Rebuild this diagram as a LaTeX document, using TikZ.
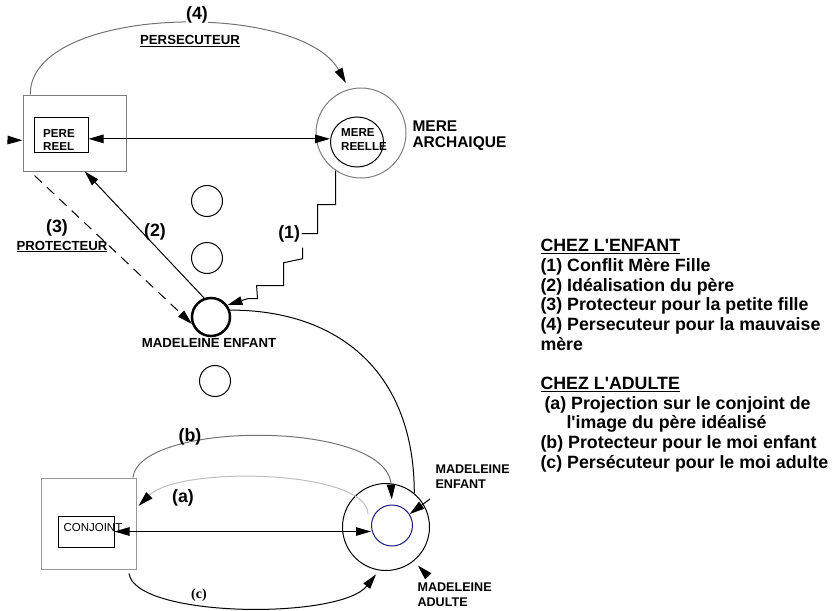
\documentclass[tikz,border=0pt]{standalone}
\usepackage{fontspec}
\setmainfont{Liberation Sans}
\newfontfamily\timesfont{Liberation Serif}
\usetikzlibrary{arrows.meta,shapes.geometric}

\definecolor{boxgray}{RGB}{125,125,125}
\definecolor{arcgray}{RGB}{115,115,115}
\definecolor{palegray}{RGB}{190,190,190}
\definecolor{moiblue}{RGB}{25,25,120}

\begin{document}
\begin{tikzpicture}[x=1pt, y=1pt, line width=1pt,
    >={Triangle[length=15pt,width=8.5pt]},
    headarc/.style = {-{Triangle[length=15pt,width=8.5pt,color=black]}},
    big/.style = {font=\bfseries\fontsize{17.8}{19.7}\selectfont, inner sep=1pt},
    mid/.style = {font=\bfseries\fontsize{13.2}{15}\selectfont, inner sep=1pt},
    small/.style = {font=\bfseries\fontsize{11.6}{13.5}\selectfont, inner sep=0pt, align=left},
    side/.style = {font=\bfseries\fontsize{12.6}{15}\selectfont, inner sep=0pt, align=left, anchor=west},
    rbox/.style = {draw, rectangle, inner sep=0pt},
    ring/.style = {draw, circle, inner sep=0pt},
    blob/.style = {draw, circle, inner sep=0pt, minimum size=31pt}]

\useasboundingbox (0,0) rectangle (834,-610);

% pere / mere
\node[rbox, draw=boxgray, minimum width=103pt, minimum height=76pt] (n_pereout) at (74.5,-133) {};
\node[rbox, minimum width=54pt, minimum height=35pt] (n_pere) at (61,-135) {};
\node[small] (t_pere) at (59,-140) {PERE\\REEL};
\node[ring, draw=boxgray, minimum size=90pt] (n_arch) at (361,-133) {};
\node[draw, ellipse, inner sep=0pt, minimum width=53pt, minimum height=50pt] (n_mere) at (357,-142) {};
\node[small] (t_mere) at (364,-139.5) {MERE\\REELLE};
\node[font=\bfseries\fontsize{15.5}{16}\selectfont, align=left, anchor=west, inner sep=0pt] (t_arch) at (412,-136) {MERE\\ARCHAIQUE};

\coordinate (c_in) at (8,-140);
\draw[->] (c_in) -- (n_pereout.-172);
\draw[<->] (n_pere.-8) -- (n_pere.-8 -| n_mere.west);

% (4)
\draw[headarc, draw=arcgray, shorten >=7pt] (n_pereout.139) .. controls (30,-5) and (300,0) .. (n_arch.105);
\node[big, fill=white, inner sep=0.5pt] (t_4) at (197,-15) {(4)};
\node[mid, anchor=base] (t_pers) at (190,-44.5) {\underline{PERSECUTEUR}};

% enfant
\node[blob] (n_c1) at (207,-201) {};
\node[blob] (n_c2) at (207,-258) {};
\node[blob] (n_c3) at (215,-381) {};
\node[ring, line width=2.5pt, minimum size=38pt] (n_enf) at (211,-317) {};
\node[mid] (t_enf) at (209,-343) {MADELEINE ENFANT};

\draw[->] (n_enf.110) -- (n_pereout.-75);
\draw[->, dash pattern=on 10pt off 7pt, shorten <=6pt] (n_pereout.221) -- (n_enf.200);
\node[big] (t_2) at (155,-232) {(2)};
\node[big] (t_3) at (57,-228) {(3)};
\node[mid, anchor=base] (t_prot) at (62,-250) {\underline{PROTECTEUR}};

\draw[->, shorten <=7pt] (n_arch.236) -- ++(0,-34) -- ++(-18,0) -- ++(0,-29) -- ++(-16,0)
    node[big, anchor=east] (t_1) {(1)}
    ++(1,-7) -- ++(0,-18) -- ++(-19,-4) -- ++(0,-23) -- ++(-27,0) -- ++(1,-13) -- ++(-10,0) -- (n_enf.36);

% adulte
\node[rbox, draw=boxgray!80, minimum width=95pt, minimum height=91pt] (n_conjout) at (88.5,-523.5) {};
\node[rbox, minimum width=56pt, minimum height=31pt] (n_conj) at (86,-531.5) {};
\node[font=\fontsize{11.5}{13}\selectfont, anchor=west, inner sep=0pt] (t_conj) at (63,-528) {CONJOINT};
\node[ring, minimum size=87pt] (n_adulte) at (386,-527) {};
\node[ring, draw=moiblue, minimum size=41pt] (n_moi) at (392,-525.5) {};

\draw (n_enf.20) .. controls +(110,0) and +(0,120) .. (n_adulte.50);
\draw[<->] (n_conj.east) -- (n_conj.east -| n_moi.west);

\draw[headarc, draw=arcgray, shorten >=5pt] (n_conjout.46) .. controls (140,-420) and (388,-420) .. (n_moi.north);
\node[big] (t_b) at (190,-437) {(b)};
\coordinate (c_a) at (368,-514);
\draw[headarc, draw=palegray, shorten >=3pt] (c_a) .. controls (368,-470) and (180,-465) .. (n_conjout.18);
\node[big] (t_a) at (183,-498) {(a)};
\draw[->, shorten <=4pt, shorten >=5pt] (n_conjout.-49) .. controls (135,-618) and (340,-620) .. (n_adulte.-99);
\node[font=\timesfont\bfseries\fontsize{14}{15}\selectfont, inner sep=0pt] (t_c) at (199,-595) {(c)};

\node[side] (t_menf) at (435,-476.5) {MADELEINE\\ENFANT};
\coordinate (c_menf) at (430,-499);
\draw[->] (c_menf) -- (n_moi.33);
\node[side] (t_madu) at (417,-594.5) {MADELEINE\\ADULTE};
\coordinate (c_madu) at (428,-576);
\draw[->, shorten >=6pt] (c_madu) -- (n_adulte.-51);

% legende
\node[big, align=left, anchor=north west, inner sep=0pt] (t_legend) at (540,-238.7) {\underline{CHEZ L\textquotesingle ENFANT}\\
(1) Conflit Mère Fille\\
(2) Idéalisation du père\\
(3) Protecteur pour la petite fille\\
(4) Persecuteur pour la mauvaise\\
mère\\[19.7pt]
\underline{CHEZ L\textquotesingle ADULTE}\\
\hspace{4pt}(a) Projection sur le conjoint de\\
\hspace{26pt}l\textquotesingle image du père idéalisé\\
(b) Protecteur pour le moi enfant\\
(c) Persécuteur pour le moi adulte};
\end{tikzpicture}
\end{document}
